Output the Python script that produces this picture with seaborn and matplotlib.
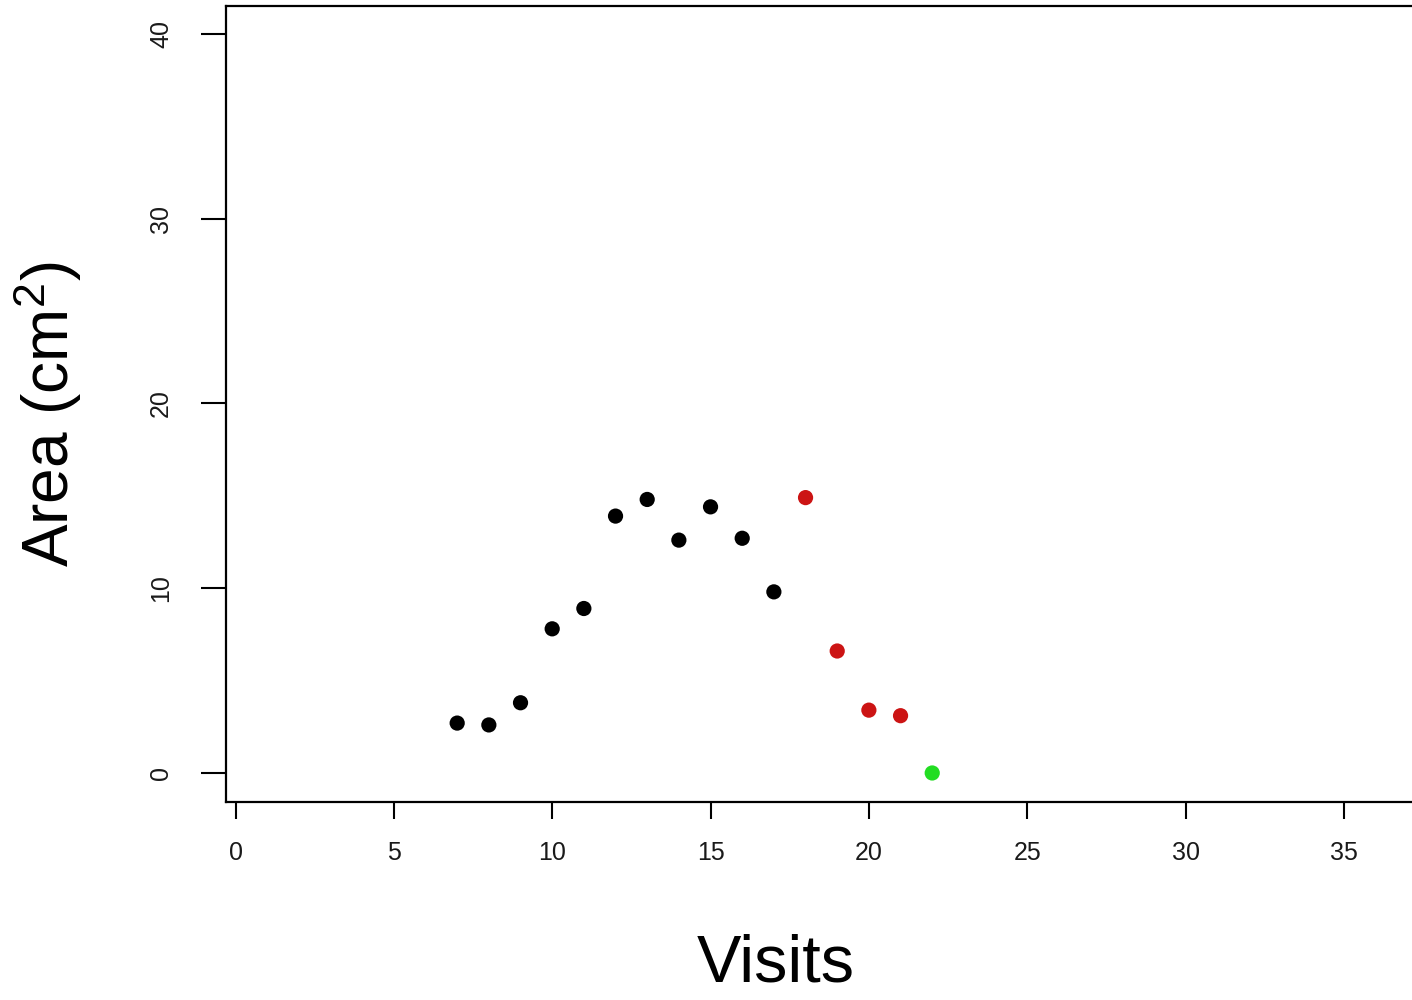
import pandas as pd
import matplotlib.pyplot as plt
import seaborn as sns

visits = [7, 8, 9, 10, 11, 12, 13, 14, 15, 16, 17, 18, 19, 20, 21, 22]
area = [2.7, 2.6, 3.8, 7.8, 8.9, 13.9, 14.8, 12.6, 14.4, 12.7, 9.8,
        14.9, 6.6, 3.4, 3.1, 0.0]
phase = ["a"] * 11 + ["b"] * 4 + ["c"]
colors = {"a": "#000000", "b": "#CC1414", "c": "#22DD22"}

df = pd.DataFrame({"Visits": visits, "Area": area, "phase": phase})

sns.set_style("white")
plt.rcParams["font.family"] = ["Liberation Sans", "DejaVu Sans"]
plt.rcParams["mathtext.default"] = "regular"
plt.rcParams["text.color"] = "black"

fig = plt.figure(figsize=(14.12, 10), dpi=100)
ax = fig.add_axes([226 / 1412, 198 / 1000, 1 - 226 / 1412, 796 / 1000])

sns.scatterplot(data=df, x="Visits", y="Area", hue="phase", palette=colors,
                s=120, linewidth=0, legend=False, ax=ax)

ax.set_xlim(-0.3, 37.15)
ax.set_ylim(-1.57, 41.5)
ax.set_xticks([0, 5, 10, 15, 20, 25, 30, 35])
ax.set_yticks([0, 10, 20, 30, 40])
ax.set_xlabel("")
ax.set_ylabel("")

for side in ["left", "bottom", "top"]:
    ax.spines[side].set_linewidth(1.6)
    ax.spines[side].set_color("black")
ax.spines["right"].set_visible(False)

ax.tick_params(axis="x", direction="out", length=12, width=1.5, pad=16,
               labelsize=18, labelcolor="#1a1a1a", color="black", bottom=True)
ax.tick_params(axis="y", direction="out", length=18, width=1.5, pad=20,
               labelsize=18, labelcolor="#1a1a1a", color="black", left=True)
for lab in ax.get_yticklabels():
    lab.set_rotation(90)
    lab.set_va("center")

fig.text(776 / 1412, 1 - 965 / 1000, "Visits", fontsize=48,
         ha="center", va="center", color="black")
fig.text(47 / 1412, 1 - 414 / 1000, "Area (cm$^2$)", fontsize=46,
         ha="center", va="center", rotation=90, color="black")

fig.savefig("out.png", dpi=100)
